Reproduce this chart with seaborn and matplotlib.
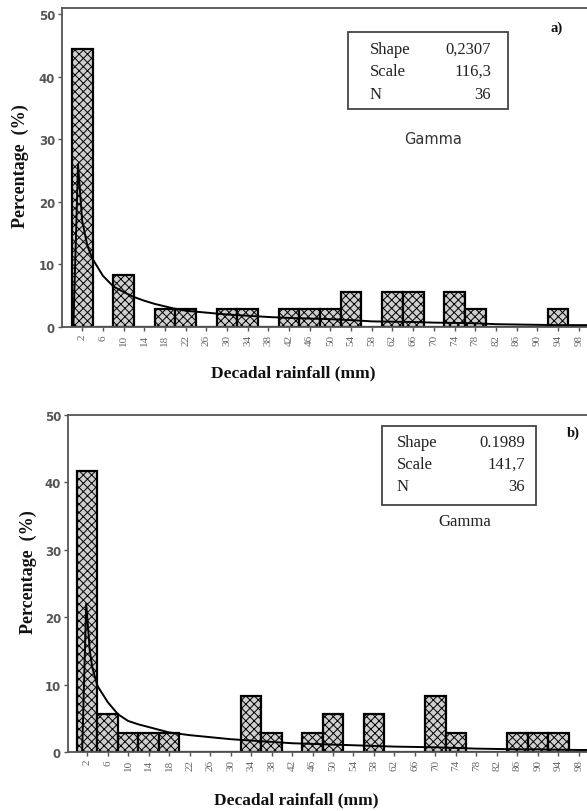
import numpy as np
import matplotlib
matplotlib.use("Agg")
import matplotlib.pyplot as plt
from matplotlib.patches import Rectangle
import seaborn as sns

# bin centres (mm) and percentage of decades per bin
bin_centers = [2, 6, 10, 14, 18, 22, 26, 30, 34, 38, 42, 46, 50,
               54, 58, 62, 66, 70, 74, 78, 82, 86, 90, 94, 98]
pct_a = [44.4, 0, 8.3, 0, 2.8, 2.8, 0, 2.8, 2.8, 0, 2.8, 2.8, 2.8,
         5.6, 0, 5.6, 5.6, 0, 5.6, 2.8, 0, 0, 0, 2.8, 0]
pct_b = [41.7, 5.6, 2.8, 2.8, 2.8, 0, 0, 0, 8.3, 2.8, 0, 2.8, 5.6,
         0, 5.6, 0, 0, 8.3, 2.8, 0, 0, 2.8, 2.8, 2.8, 0]

# fitted gamma curves
curve_a_x = [0.3, 1.2, 2, 3, 4, 6, 8, 10, 12, 14, 16, 18, 20, 22, 26, 30, 34, 38,
             42, 46, 50, 54, 58, 62, 66, 70, 74, 78, 82, 86, 90, 94, 98, 100]
curve_a_y = [0, 26, 17, 13, 10.9, 8.2, 6.5, 5.6, 4.8, 4.2, 3.7, 3.3, 2.9, 2.6, 2.3,
             2.0, 1.8, 1.6, 1.45, 1.35, 1.25, 1.1, 0.9, 0.85, 0.8, 0.7, 0.65, 0.6,
             0.45, 0.4, 0.35, 0.3, 0.3, 0.3]
curve_b_x = [1.0, 1.8, 2.5, 3, 4, 6, 8, 10, 12, 14, 16, 18, 22, 26, 30, 34, 38,
             42, 46, 50, 54, 58, 62, 66, 70, 74, 78, 82, 86, 90, 94, 98, 100]
curve_b_y = [0, 22, 15, 12.5, 9.8, 7.4, 5.6, 4.6, 4.1, 3.7, 3.3, 2.9, 2.5, 2.2,
             1.9, 1.7, 1.5, 1.3, 1.2, 1.1, 1.0, 0.9, 0.8, 0.75, 0.7, 0.6, 0.5,
             0.45, 0.4, 0.4, 0.35, 0.3, 0.3]

bin_edges = list(range(0, 104, 4))

sns.set_theme(style="ticks")
plt.rcParams["hatch.linewidth"] = 0.7
plt.rcParams["font.family"] = ["DejaVu Sans"]

W, H = 587, 812
fig = plt.figure(figsize=(W / 100, H / 100), dpi=100)


def fig_px(x, y):
    return x / W, 1 - y / H


panels = [
    dict(pct=pct_a, cx=curve_a_x, cy=curve_a_y, left=62, right=589, top=9, bottom=328,
         ymax=51, xmin=-1.9, tag="a)", tag_xy=(557, 28),
         box=(348, 33, 508, 110), key_x=370, val_x=491, rows_y=[50, 72, 95],
         vals=["0,2307", "116,3", "36"], gamma_xy=(433, 140), gamma_serif=False,
         ylab=(-0.062, 0.508), xlab=(0.438, -0.117)),
    dict(pct=pct_b, cx=curve_b_x, cy=curve_b_y, left=68, right=589, top=416, bottom=753,
         ymax=50, xmin=-1.76, tag="b)", tag_xy=(573, 433),
         box=(382, 427, 536, 506), key_x=397, val_x=525, rows_y=[443, 465, 487],
         vals=["0.1989", "141,7", "36"], gamma_xy=(465, 522), gamma_serif=True,
         ylab=(-0.059, 0.537), xlab=(0.438, -0.117)),
]

serif = ["Liberation Serif", "DejaVu Serif"]
spine_col = "#555555"

for p in panels:
    ax = fig.add_axes([p["left"] / W, 1 - p["bottom"] / H,
                       (p["right"] - p["left"]) / W, (p["bottom"] - p["top"]) / H])
    sns.histplot(x=bin_centers, weights=p["pct"], bins=bin_edges, ax=ax,
                 color="#cfcfcf", edgecolor="black", linewidth=1.6, alpha=1)
    for patch in ax.patches:
        patch.set_hatch("xxxx")
    sns.lineplot(x=p["cx"], y=p["cy"], ax=ax, color="black", linewidth=1.4,
                 sort=False, estimator=None)

    ax.set_xlim(p["xmin"], 100)
    ax.set_ylim(0, p["ymax"])
    ax.set_xticks(bin_centers)
    ax.set_xticklabels([str(c) for c in bin_centers], rotation=90,
                       fontsize=8, color="#666666", family=serif)
    ax.set_yticks([0, 10, 20, 30, 40, 50])
    ax.set_yticklabels(["0", "10", "20", "30", "40", "50"], fontsize=8.5,
                       fontweight="bold", color="#555555")
    ax.tick_params(axis="both", direction="out", length=3, width=1, color=spine_col,
                   pad=2)
    for s in ax.spines.values():
        s.set_color(spine_col)
        s.set_linewidth(1.3)

    ax.set_ylabel("Percentage  (%)", fontsize=13, fontweight="bold", family=serif,
                  color="#111111")
    ax.yaxis.set_label_coords(*p["ylab"])
    ax.set_xlabel("Decadal rainfall (mm)", fontsize=12.5, fontweight="bold",
                  family=serif, color="#111111")
    ax.xaxis.set_label_coords(*p["xlab"])

    # parameter box
    x0, y0, x1, y1 = p["box"]
    bx, by = fig_px(x0, y1)
    fig.patches.append(Rectangle((bx, by), (x1 - x0) / W, (y1 - y0) / H,
                                 transform=fig.transFigure, facecolor="white",
                                 edgecolor="#444444", linewidth=1.3))
    for key, val, yy in zip(["Shape", "Scale", "N"], p["vals"], p["rows_y"]):
        fig.text(*fig_px(p["key_x"], yy), key, family=serif, fontsize=12,
                 ha="left", va="center", color="#222222")
        fig.text(*fig_px(p["val_x"], yy), val, family=serif, fontsize=12,
                 ha="right", va="center", color="#222222")
    if p["gamma_serif"]:
        fig.text(*fig_px(*p["gamma_xy"]), "Gamma", family=serif, fontsize=12,
                 ha="center", va="center", color="#222222")
    else:
        fig.text(*fig_px(*p["gamma_xy"]), "Gamma", fontsize=10.5,
                 ha="center", va="center", color="#333333")
    fig.text(*fig_px(*p["tag_xy"]), p["tag"], family=serif, fontsize=10.5,
             fontweight="bold", ha="center", va="center", color="#111111")

fig.savefig("out.png", dpi=100)
